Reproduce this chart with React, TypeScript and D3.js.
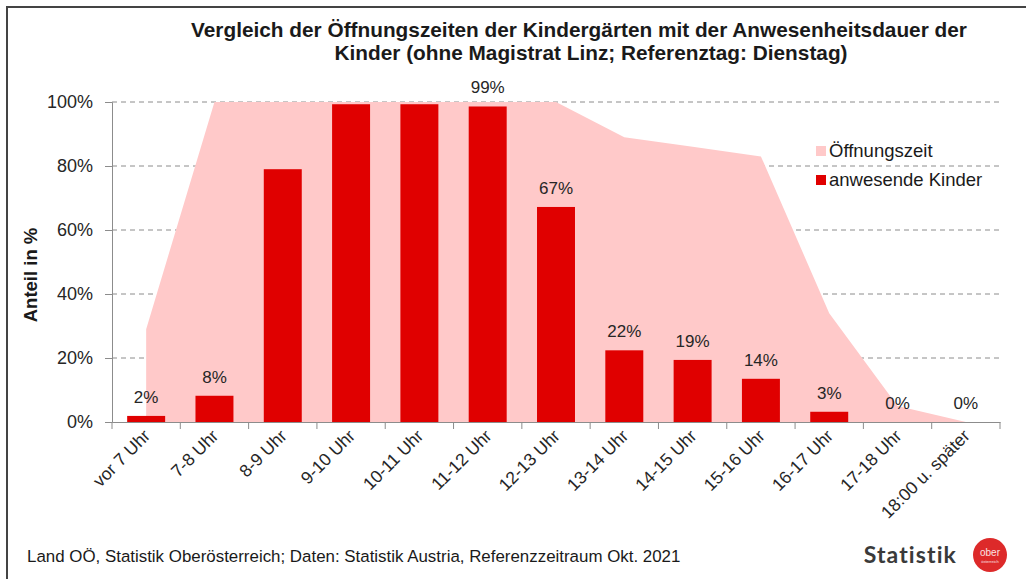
import { useEffect, useRef } from "react";
import * as d3 from "d3";

const categories = [
  "vor 7 Uhr",
  "7-8 Uhr",
  "8-9 Uhr",
  "9-10 Uhr",
  "10-11 Uhr",
  "11-12 Uhr",
  "12-13 Uhr",
  "13-14 Uhr",
  "14-15 Uhr",
  "15-16 Uhr",
  "16-17 Uhr",
  "17-18 Uhr",
  "18:00 u. später",
];
// Öffnungszeit (area), in %
const opening = [29, 100, 100, 100, 100, 100, 100, 89, 86, 83, 34, 5, 0];
// anwesende Kinder (bars), in %
const present = [1.9, 8.2, 79, 99.3, 99.3, 98.6, 67.2, 22.4, 19.4, 13.5, 3.2, 0, 0];
const presentLabels = ["2%", "8%", "", "", "", "99%", "67%", "22%", "19%", "14%", "3%", "0%", "0%"];
const yTicks = [0, 20, 40, 60, 80, 100];
const titleLines = [
  "Vergleich der Öffnungszeiten der Kindergärten mit der Anwesenheitsdauer der",
  "Kinder (ohne Magistrat Linz; Referenztag: Dienstag)",
];
const legendItems = [
  { label: "Öffnungszeit", color: "#ffc9c9" },
  { label: "anwesende Kinder", color: "#e00000" },
];
const footer = "Land OÖ, Statistik Oberösterreich; Daten: Statistik Austria, Referenzzeitraum Okt. 2021";

const FONT = "'Liberation Sans', Arial, sans-serif";

export default function App() {
  const ref = useRef<SVGSVGElement | null>(null);

  useEffect(() => {
    if (!ref.current) return;
    const svg = d3.select(ref.current);
    svg.selectAll("*").remove();

    const width = 1026;
    const height = 579;
    const margin = { top: 102, right: 26, bottom: 157, left: 112 };

    svg.append("rect").attr("width", width).attr("height", height).attr("fill", "#fff");

    // frame (top + left edge visible)
    svg
      .append("path")
      .attr("d", `M7,${height} L7,7 L${width},7`)
      .attr("fill", "none")
      .attr("stroke", "#444")
      .attr("stroke-width", 2);

    const x = d3
      .scaleBand<string>()
      .domain(categories)
      .range([margin.left, width - margin.right])
      .paddingInner(0.444)
      .paddingOuter(0.222);
    const y = d3
      .scaleLinear()
      .domain([0, 100])
      .range([height - margin.bottom, margin.top]);

    // dashed grid
    svg
      .append("g")
      .selectAll("line")
      .data(yTicks.filter((t) => t > 0))
      .join("line")
      .attr("x1", margin.left)
      .attr("x2", width - margin.right)
      .attr("y1", (d) => y(d))
      .attr("y2", (d) => y(d))
      .attr("stroke", "#8c8c8c")
      .attr("stroke-dasharray", "5,4");

    // opening hours area
    const cx = (c: string) => (x(c) ?? 0) + x.bandwidth() / 2;
    const area = d3
      .area<number>()
      .x((_, i) => cx(categories[i]))
      .y0(y(0))
      .y1((d) => y(d));
    svg.append("path").datum(opening).attr("fill", "#ffc9c9").attr("d", area);

    // bars
    svg
      .append("g")
      .selectAll("rect")
      .data(present)
      .join("rect")
      .attr("x", (_, i) => x(categories[i]) ?? 0)
      .attr("width", x.bandwidth())
      .attr("y", (d) => y(d))
      .attr("height", (d) => y(0) - y(d))
      .attr("fill", "#e00000");

    // bar labels
    svg
      .append("g")
      .selectAll("text")
      .data(presentLabels)
      .join("text")
      .attr("x", (_, i) => cx(categories[i]))
      .attr("y", (_, i) => y(present[i]) - 13)
      .attr("text-anchor", "middle")
      .attr("font-family", FONT)
      .attr("font-size", 17)
      .attr("fill", "#262626")
      .text((d) => d);

    // y axis
    const yAxis = svg
      .append("g")
      .attr("transform", `translate(${margin.left},0)`)
      .call(
        d3
          .axisLeft(y)
          .tickValues(yTicks)
          .tickSize(7)
          .tickPadding(12)
          .tickFormat((d) => `${d}%`)
      );
    yAxis.select(".domain").attr("stroke", "#8c8c8c");
    yAxis.selectAll(".tick line").attr("stroke", "#8c8c8c");
    yAxis
      .selectAll("text")
      .attr("font-family", FONT)
      .attr("font-size", 18)
      .attr("fill", "#262626");

    // x axis
    const xAxis = svg
      .append("g")
      .attr("transform", `translate(0,${y(0)})`)
      .call(d3.axisBottom(x).tickSize(0).tickSizeOuter(0).tickFormat(() => ""));
    xAxis.select(".domain").attr("stroke", "#8c8c8c");
    xAxis.selectAll(".tick").remove();
    const step = x.step();
    const boundaries = d3.range(categories.length + 1).map((i) => margin.left + i * step);
    xAxis
      .selectAll("line.sep")
      .data(boundaries)
      .join("line")
      .attr("class", "sep")
      .attr("x1", (d) => d)
      .attr("x2", (d) => d)
      .attr("y1", 0)
      .attr("y2", 7)
      .attr("stroke", "#8c8c8c");
    xAxis
      .selectAll("text.cat")
      .data(categories)
      .join("text")
      .attr("class", "cat")
      .attr("transform", (d) => `translate(${cx(d) + 5},${15}) rotate(-45)`)
      .attr("text-anchor", "end")
      .attr("font-family", FONT)
      .attr("font-size", 17.5)
      .attr("fill", "#262626")
      .text((d) => d);

    // y title
    svg
      .append("text")
      .attr("transform", `translate(37,275) rotate(-90)`)
      .attr("text-anchor", "middle")
      .attr("font-family", FONT)
      .attr("font-weight", "bold")
      .attr("font-size", 18.5)
      .attr("fill", "#1a1a1a")
      .text("Anteil in %");

    // title
    svg
      .append("g")
      .selectAll("text")
      .data(titleLines)
      .join("text")
      .attr("x", (_, i) => (i === 0 ? 579 : 591))
      .attr("y", (_, i) => 37 + i * 23)
      .attr("text-anchor", "middle")
      .attr("font-family", FONT)
      .attr("font-weight", "bold")
      .attr("font-size", 20.8)
      .attr("fill", "#1a1a1a")
      .text((d) => d);

    // legend
    const legend = svg.append("g").attr("transform", "translate(816,146)");
    legendItems.forEach((item, i) => {
      const g = legend.append("g").attr("transform", `translate(0,${i * 29})`);
      g.append("rect").attr("width", 10).attr("height", 10).attr("fill", item.color);
      g.append("text")
        .attr("x", 13)
        .attr("y", 11)
        .attr("font-family", FONT)
        .attr("font-size", 18.5)
        .attr("fill", "#1a1a1a")
        .text(item.label);
    });

    // footer
    svg
      .append("text")
      .attr("x", 27)
      .attr("y", 562)
      .attr("font-family", FONT)
      .attr("font-size", 16.9)
      .attr("fill", "#1a1a1a")
      .text(footer);

    // logo
    svg
      .append("text")
      .attr("x", 957)
      .attr("y", 563)
      .attr("text-anchor", "end")
      .attr("font-family", "Lato, 'Noto Sans', sans-serif")
      .attr("font-weight", "bold")
      .attr("font-size", 23)
      .attr("letter-spacing", 1.1)
      .attr("fill", "#3a3a3a")
      .text("Statistik");
    svg.append("circle").attr("cx", 990).attr("cy", 555).attr("r", 17).attr("fill", "#dd2a2a");
    svg
      .append("text")
      .attr("x", 990)
      .attr("y", 556)
      .attr("text-anchor", "middle")
      .attr("font-family", FONT)
      .attr("font-size", 10)
      .attr("fill", "#fbe3e3")
      .text("ober");
    svg
      .append("text")
      .attr("x", 990)
      .attr("y", 563)
      .attr("text-anchor", "middle")
      .attr("font-family", FONT)
      .attr("font-size", 4)
      .attr("fill", "#fbe3e3")
      .text("österreich");
  }, []);

  return (
    <div style={{ position: "absolute", left: 0, top: 0 }}>
      <svg ref={ref} width={1026} height={579} style={{ display: "block" }} />
    </div>
  );
}
